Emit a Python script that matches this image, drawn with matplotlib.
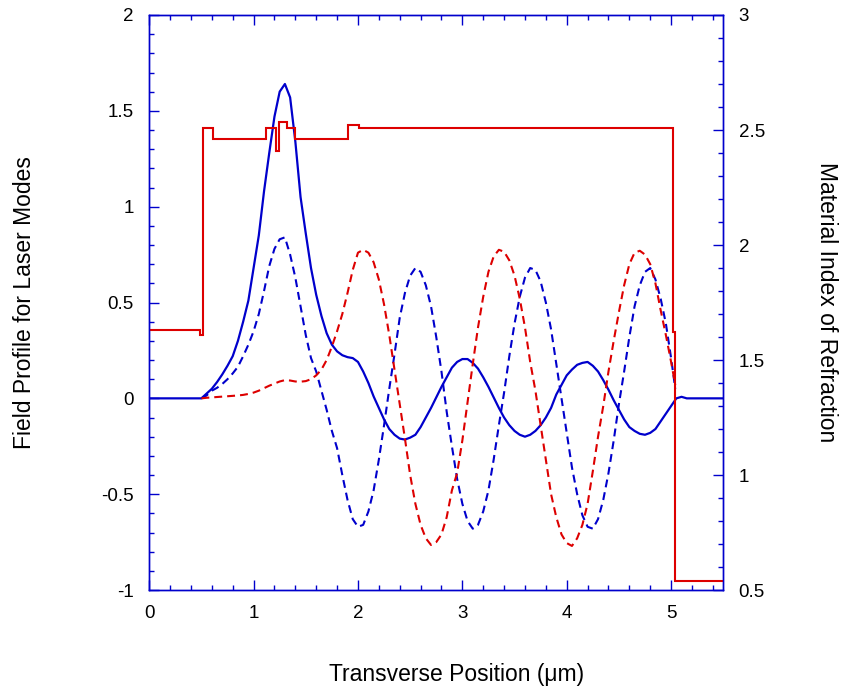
import numpy as np
import matplotlib
matplotlib.use("Agg")
import matplotlib.pyplot as plt
from matplotlib.ticker import MultipleLocator

plt.rcParams['font.family'] = ['Liberation Sans', 'DejaVu Sans']

# transverse position grid for the mode profiles (um)
x_mode = [0.50, 0.55, 0.60, 0.65, 0.70, 0.75, 0.80, 0.85, 0.90, 0.95,
          1.00, 1.05, 1.10, 1.15, 1.20, 1.25, 1.30, 1.35, 1.40, 1.45,
          1.50, 1.55, 1.60, 1.65, 1.70, 1.75, 1.80, 1.85, 1.90, 1.95,
          2.00, 2.05, 2.10, 2.15, 2.20, 2.25, 2.30, 2.35, 2.40, 2.45,
          2.50, 2.55, 2.60, 2.65, 2.70, 2.75, 2.80, 2.85, 2.90, 2.95,
          3.00, 3.05, 3.10, 3.15, 3.20, 3.25, 3.30, 3.35, 3.40, 3.45,
          3.50, 3.55, 3.60, 3.65, 3.70, 3.75, 3.80, 3.85, 3.90, 3.95,
          4.00, 4.05, 4.10, 4.15, 4.20, 4.25, 4.30, 4.35, 4.40, 4.45,
          4.50, 4.55, 4.60, 4.65, 4.70, 4.75, 4.80, 4.85, 4.90, 4.95,
          5.00, 5.04]

# fundamental mode (solid blue), incl. flat tails outside the structure
x_fund = [0.0] + x_mode[:-1] + [5.05, 5.10, 5.15, 5.50]
fund = [0.0,
        0.0, 0.025, 0.05, 0.085, 0.125, 0.17, 0.22, 0.30, 0.40, 0.51,
        0.68, 0.85, 1.08, 1.28, 1.47, 1.60, 1.64, 1.57, 1.34, 1.05,
        0.86, 0.68, 0.54, 0.43, 0.34, 0.28, 0.245, 0.225, 0.215, 0.21,
        0.19, 0.14, 0.08, 0.01, -0.05, -0.11, -0.16, -0.19, -0.21, -0.215,
        -0.205, -0.19, -0.15, -0.10, -0.05, 0.005, 0.06, 0.11, 0.16, 0.19,
        0.205, 0.205, 0.185, 0.155, 0.11, 0.06, 0.005, -0.05, -0.10, -0.14,
        -0.17, -0.19, -0.20, -0.19, -0.17, -0.14, -0.10, -0.05, 0.02, 0.07,
        0.12, 0.15, 0.175, 0.185, 0.19, 0.17, 0.14, 0.095, 0.045, -0.01,
        -0.06, -0.11, -0.15, -0.17, -0.185, -0.19, -0.18, -0.16, -0.12, -0.08,
        -0.04,
        0.0, 0.008, 0.0, 0.0]

# higher order mode (dashed blue)
mode2 = [0.0, 0.015, 0.04, 0.055, 0.075, 0.10, 0.13, 0.165, 0.22, 0.28,
         0.35, 0.44, 0.56, 0.69, 0.78, 0.83, 0.84, 0.75, 0.63, 0.48,
         0.33, 0.21, 0.14, 0.04, -0.06, -0.17, -0.26, -0.40, -0.53, -0.63,
         -0.67, -0.66, -0.59, -0.48, -0.32, -0.14, 0.05, 0.23, 0.42, 0.55,
         0.64, 0.68, 0.66, 0.59, 0.48, 0.32, 0.14, -0.07, -0.25, -0.42,
         -0.55, -0.64, -0.68, -0.66, -0.59, -0.48, -0.32, -0.14, 0.03, 0.22,
         0.39, 0.53, 0.63, 0.68, 0.67, 0.61, 0.50, 0.36, 0.18, 0.0,
         -0.18, -0.36, -0.50, -0.61, -0.67, -0.68, -0.63, -0.53, -0.39, -0.22,
         -0.03, 0.14, 0.32, 0.48, 0.59, 0.66, 0.68, 0.62, 0.52, 0.39,
         0.21, 0.05]

# another mode (dashed red)
mode3 = [0.0, 0.003, 0.005, 0.007, 0.009, 0.011, 0.013, 0.015, 0.018, 0.023,
         0.03, 0.04, 0.053, 0.066, 0.077, 0.088, 0.095, 0.093, 0.088, 0.087,
         0.09, 0.10, 0.12, 0.15, 0.20, 0.27, 0.35, 0.44, 0.55, 0.67,
         0.76, 0.775, 0.76, 0.71, 0.62, 0.49, 0.33, 0.15, -0.03, -0.21,
         -0.40, -0.55, -0.66, -0.73, -0.765, -0.75, -0.71, -0.62, -0.48, -0.39,
         -0.22, -0.02, 0.18, 0.37, 0.53, 0.66, 0.74, 0.775, 0.765, 0.72,
         0.64, 0.52, 0.37, 0.19, 0.04, -0.14, -0.32, -0.50, -0.62, -0.71,
         -0.755, -0.77, -0.73, -0.66, -0.55, -0.38, -0.20, -0.04, 0.14, 0.30,
         0.45, 0.59, 0.70, 0.76, 0.77, 0.75, 0.70, 0.60, 0.46, 0.33,
         0.19, 0.07]

# refractive index profile (right axis), piecewise constant
n_edges = [0.0, 0.49, 0.52, 0.61, 1.115, 1.21, 1.24, 1.316, 1.40, 1.906,
           2.01, 5.02, 5.04, 5.5]
n_values = [1.63, 1.61, 2.51, 2.46, 2.51, 2.41, 2.535, 2.51, 2.46, 2.52,
            2.51, 1.62, 0.54]

BLUE = '#0000cc'
RED = '#dd0000'

fig = plt.figure(figsize=(8.43, 6.88), dpi=100)
ax = fig.add_axes([0.177, 0.1424, 0.681, 0.8358])
ax2 = ax.twinx()

ax.plot(x_fund, fund, color=BLUE, lw=1.6)
ax.plot(x_mode, mode2, color=BLUE, lw=1.5, dashes=(3.8, 2.4))
ax.plot(x_mode, mode3, color=RED, lw=1.5, dashes=(3.8, 2.4))
ax2.stairs(n_values, n_edges, baseline=None, color=RED, lw=1.5)

ax.set_xlim(0, 5.5)
ax.set_ylim(-1, 2)
ax2.set_ylim(0.5, 3)

ax.xaxis.set_major_locator(MultipleLocator(1))
ax.xaxis.set_minor_locator(MultipleLocator(0.2))
ax.yaxis.set_major_locator(MultipleLocator(0.5))
ax.yaxis.set_minor_locator(MultipleLocator(0.1))
ax2.yaxis.set_major_locator(MultipleLocator(0.5))
ax2.yaxis.set_minor_locator(MultipleLocator(0.1))

fmt = plt.FuncFormatter(lambda v, p: '%g' % v)
ax.xaxis.set_major_formatter(fmt)
ax.yaxis.set_major_formatter(fmt)
ax2.yaxis.set_major_formatter(fmt)

for a in (ax, ax2):
    for s in a.spines.values():
        s.set_color(BLUE)
        s.set_linewidth(1.0)
    a.tick_params(which='both', direction='in', color=BLUE, labelsize=13.5,
                  labelcolor='black')
    a.tick_params(which='major', length=7, width=1, pad=11)
    a.tick_params(which='minor', length=3.5, width=1)
ax.tick_params(which='both', top=True, right=False)

ax.set_xlabel('Transverse Position (μm)', fontsize=16.5, labelpad=29, x=0.535)
ax.set_ylabel('Field Profile for Laser Modes', fontsize=16.5, labelpad=47)
ax2.set_ylabel('Material Index of Refraction', fontsize=16.5, rotation=270,
               labelpad=53)

fig.savefig('out.png', dpi=100)
